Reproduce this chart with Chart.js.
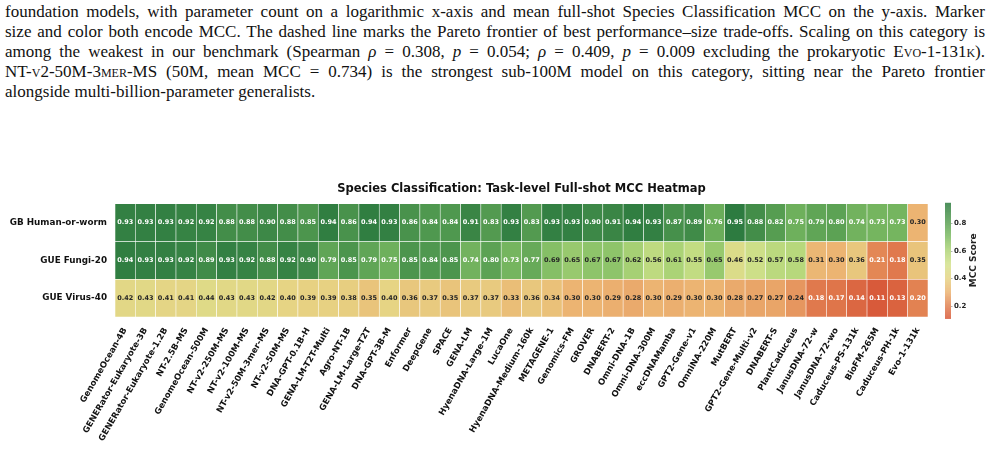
<!DOCTYPE html>
<html>
<head>
<meta charset="utf-8">
<script src="https://cdn.jsdelivr.net/npm/chart.js@4.4.1/dist/chart.umd.min.js"></script>
<style>
  html, body { margin: 0; padding: 0; background: #fff; }
  body { width: 987px; height: 453px; position: relative; overflow: hidden; }
  #caption {
    position: absolute; left: 5px; top: 2px; width: 980px;
    font-family: "Liberation Serif", "DejaVu Serif", serif;
    font-size: 17px; line-height: 20px; color: #111;
  }
  #caption div { text-align: justify; text-align-last: justify; white-space: nowrap; }
  #caption div.last { text-align-last: left; }
  .sc { font-variant: small-caps; }
  #chart { position: absolute; left: 0; top: 0; }
</style>
</head>
<body>
<div id="caption">
  <div>foundation models, with parameter count on a logarithmic x-axis and mean full-shot Species Classification MCC on the y-axis. Marker</div>
  <div>size and color both encode MCC. The dashed line marks the Pareto frontier of best performance–size trade-offs. Scaling on this category is</div>
  <div>among the weakest in our benchmark (Spearman <i>ρ</i> = 0.308, <i>p</i> = 0.054; <i>ρ</i> = 0.409, <i>p</i> = 0.009 excluding the prokaryotic <span class="sc">Evo-1-131k</span>).</div>
  <div>NT-<span class="sc">v</span>2-50M-3<span class="sc">mer</span>-MS (50M, mean MCC = 0.734) is the strongest sub-100M model on this category, sitting near the Pareto frontier</div>
  <div class="last">alongside multi-billion-parameter generalists.</div>
</div>
<canvas id="chart" width="987" height="453"></canvas>
<script>
// models on the x axis, tasks on the y axis
const models = [
  "GenomeOcean-4B", "GENERator-Eukaryote-3B", "GENERator-Eukaryote-1.2B", "NT-2.5B-MS",
  "GenomeOcean-500M", "NT-v2-250M-MS", "NT-v2-100M-MS", "NT-v2-50M-3mer-MS", "NT-v2-50M-MS",
  "DNA-GPT-0.1B-H", "GENA-LM-T2T-Multi", "Agro-NT-1B", "GENA-LM-Large-T2T", "DNA-GPT-3B-M",
  "Enformer", "DeepGene", "SPACE", "GENA-LM", "HyenaDNA-Large-1M", "LucaOne",
  "HyenaDNA-Medium-160k", "METAGENE-1", "Genomics-FM", "GROVER", "DNABERT-2", "Omni-DNA-1B",
  "Omni-DNA-300M", "eccDNAMamba", "GPT2-Gene-v1", "OmniNA-220M", "MutBERT", "GPT2-Gene-Multi-v2",
  "DNABERT-S", "PlantCaduceus", "JanusDNA-72-w", "JanusDNA-72-wo", "Caduceus-PS-131k",
  "BioFM-265M", "Caduceus-PH-1k", "Evo-1-131k"
];
const tasks = ["GB Human-or-worm", "GUE Fungi-20", "GUE Virus-40"];

const humanOrWorm = [0.93, 0.93, 0.93, 0.92, 0.92, 0.88, 0.88, 0.90, 0.88, 0.85, 0.94, 0.86, 0.94, 0.93,
  0.86, 0.84, 0.84, 0.91, 0.83, 0.93, 0.83, 0.93, 0.93, 0.90, 0.91, 0.94, 0.93, 0.87, 0.89, 0.76,
  0.95, 0.88, 0.82, 0.75, 0.79, 0.80, 0.74, 0.73, 0.73, 0.30];
const fungi20 = [0.94, 0.93, 0.93, 0.92, 0.89, 0.93, 0.92, 0.88, 0.92, 0.90, 0.79, 0.85, 0.79, 0.75,
  0.85, 0.84, 0.85, 0.74, 0.80, 0.73, 0.77, 0.69, 0.65, 0.67, 0.67, 0.62, 0.56, 0.61, 0.55, 0.65,
  0.46, 0.52, 0.57, 0.58, 0.31, 0.30, 0.36, 0.21, 0.18, 0.35];
const virus40 = [0.42, 0.43, 0.41, 0.41, 0.44, 0.43, 0.43, 0.42, 0.40, 0.39, 0.39, 0.38, 0.35, 0.40,
  0.36, 0.37, 0.35, 0.37, 0.37, 0.33, 0.36, 0.34, 0.30, 0.30, 0.29, 0.28, 0.30, 0.29, 0.30, 0.30,
  0.28, 0.27, 0.27, 0.24, 0.18, 0.17, 0.14, 0.11, 0.13, 0.20];
const rows = [humanOrWorm, fungi20, virus40];

const colorbarTicks = [0.2, 0.4, 0.6, 0.8];
const vmin = 0.11, vmax = 0.95;

// red-yellow-green ramp, sampled by eye
const stops = [
  [0.11, [216, 90, 58]],
  [0.20, [226, 130, 82]],
  [0.30, [236, 180, 114]],
  [0.40, [230, 212, 132]],
  [0.50, [212, 226, 140]],
  [0.60, [176, 213, 120]],
  [0.70, [128, 189, 100]],
  [0.80, [92, 162, 84]],
  [0.95, [45, 123, 64]]
];
function cmap(v) {
  v = Math.max(vmin, Math.min(vmax, v));
  for (let i = 1; i < stops.length; i++) {
    if (v <= stops[i][0]) {
      const [a, ca] = stops[i - 1], [b, cb] = stops[i];
      const t = (v - a) / (b - a);
      const c = ca.map((x, k) => Math.round(x + (cb[k] - x) * t));
      return `rgb(${c[0]},${c[1]},${c[2]})`;
    }
  }
  const c = stops[stops.length - 1][1];
  return `rgb(${c[0]},${c[1]},${c[2]})`;
}

const datasets = rows.map((vals, r) => ({
  label: tasks[r],
  data: vals.map((v, i) => ({ x: models[i], y: [r, r + 1], v: v })),
  backgroundColor: ctx => cmap(ctx.raw.v),
  borderColor: "rgba(255,255,255,0.85)",
  borderWidth: 0.6,
  borderSkipped: false,
  grouped: false,
  barPercentage: 1,
  categoryPercentage: 1
}));

// numbers inside the cells
const cellText = {
  id: "cellText",
  afterDatasetsDraw(chart) {
    const ctx = chart.ctx;
    ctx.save();
    ctx.font = "bold 6.5px 'DejaVu Sans'";
    ctx.textAlign = "center";
    ctx.textBaseline = "middle";
    chart.data.datasets.forEach((ds, di) => {
      chart.getDatasetMeta(di).data.forEach((bar, i) => {
        const v = ds.data[i].v;
        ctx.fillStyle = (v >= 0.70 || v <= 0.21) ? "#ffffff" : "#262626";
        ctx.fillText(v.toFixed(2), bar.x, (bar.y + bar.base) / 2);
      });
    });
    ctx.restore();
  }
};

// colorbar on the right
const colorbar = {
  id: "colorbar",
  afterDraw(chart) {
    const ctx = chart.ctx;
    const area = chart.chartArea;
    const x0 = 945, w = 6, top = area.top - 1, bottom = area.bottom + 1;
    const pos = v => bottom - (v - vmin) / (vmax - vmin) * (bottom - top);
    ctx.save();
    for (let y = top; y < bottom; y++) {
      const v = vmin + (bottom - y - 0.5) / (bottom - top) * (vmax - vmin);
      ctx.fillStyle = cmap(v);
      ctx.fillRect(x0, y, w, 1);
    }
    ctx.strokeStyle = "#666";
    ctx.lineWidth = 0.5;
    ctx.fillStyle = "#222";
    ctx.font = "bold 7px 'DejaVu Sans'";
    ctx.textAlign = "left";
    ctx.textBaseline = "middle";
    colorbarTicks.forEach(t => {
      const y = Math.round(pos(t)) + 0.5;
      ctx.beginPath();
      ctx.moveTo(x0 + w, y);
      ctx.lineTo(x0 + w + 1.5, y);
      ctx.stroke();
      ctx.fillText(t.toFixed(1), x0 + w + 3, y);
    });
    ctx.translate(974, (top + bottom) / 2);
    ctx.rotate(-Math.PI / 2);
    ctx.textAlign = "center";
    ctx.font = "bold 9px 'DejaVu Sans'";
    ctx.fillText("MCC Score", 0, 0);
    ctx.restore();
  }
};

new Chart(document.getElementById("chart"), {
  type: "bar",
  data: { labels: models, datasets: datasets },
  options: {
    responsive: false,
    animation: false,
    events: [],
    layout: { padding: { left: 0, right: 59, top: 178, bottom: 0 } },
    plugins: {
      legend: { display: false },
      tooltip: { enabled: false },
      title: {
        display: true,
        fullSize: false,
        text: "Species Classification: Task-level Full-shot MCC Heatmap",
        color: "#111",
        font: { family: "DejaVu Sans", weight: "bold", size: 11.5 },
        padding: { top: 4, bottom: 8 }
      }
    },
    scales: {
      x: {
        grid: { display: false },
        border: { display: false },
        ticks: {
          autoSkip: false,
          minRotation: 60,
          maxRotation: 60,
          padding: 1,
          color: "#111",
          font: { family: "DejaVu Sans", weight: "bold", size: 8.5 }
        },
        afterFit: s => { s.height = 136; }
      },
      y: {
        type: "linear",
        min: 0,
        max: 3,
        reverse: true,
        grid: { display: false },
        border: { display: false },
        afterBuildTicks: s => { s.ticks = [0.5, 1.5, 2.5].map(v => ({ value: v })); },
        ticks: {
          padding: 0,
          color: "#111",
          font: { family: "DejaVu Sans", weight: "bold", size: 8.8 },
          callback: v => tasks[Math.floor(v)]
        },
        afterFit: s => { s.width = 115; }
      }
    }
  },
  plugins: [cellText, colorbar]
});
</script>
</body>
</html>
